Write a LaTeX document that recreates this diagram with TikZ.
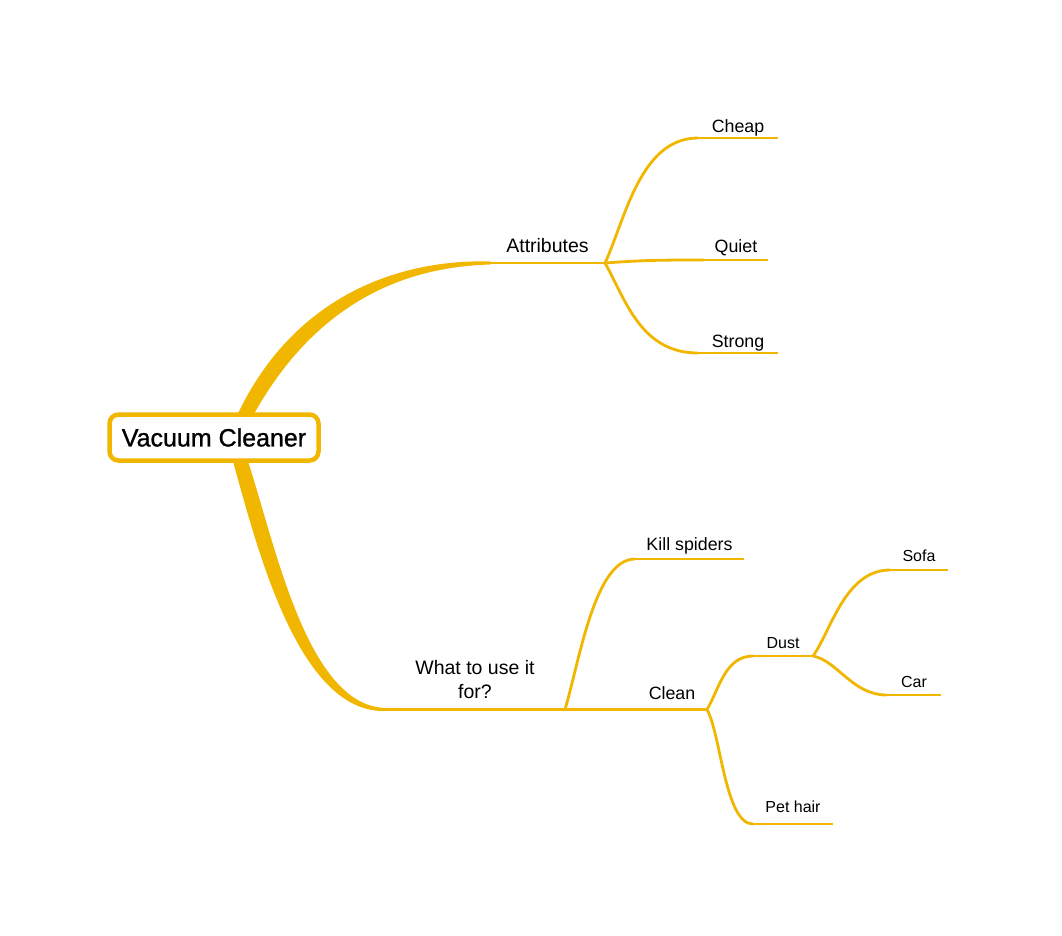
\documentclass[tikz,border=0pt]{standalone}
\usepackage{fontspec}
\setmainfont{Liberation Sans}
\newfontfamily\rootfont[FakeBold=1]{Liberation Sans}
\usepackage{tikz}
\usetikzlibrary{positioning}
\definecolor{mindgold}{RGB}{240,182,0}
\tikzset{
    root/.style={draw=mindgold, line width=4.5pt, rounded corners=9pt, fill=white,
        minimum width=209pt, minimum height=46pt, inner sep=0pt,
        font=\rootfont\fontsize{25}{30}\selectfont},
    topic/.style={anchor=south, inner xsep=0pt, outer sep=0pt, text depth=0pt,
        font=\fontsize{19.5}{24}\selectfont},
    subtopic/.style={topic, font=\fontsize{17.8}{21}\selectfont},
    leaf/.style={topic, font=\fontsize{16}{19}\selectfont},
    twig/.style={draw=mindgold, line width=2.8pt},
    limb/.style={fill=mindgold},
}

\begin{document}
\begin{tikzpicture}[x=1pt, y=-1pt]
	\useasboundingbox (0,0) rectangle (1062,935);
	% topics
	\node[topic, minimum width=115pt, inner ysep=11pt] (attr) at (547.5,263) {Attributes};
	\node[subtopic, minimum width=80pt, inner ysep=6pt] (cheap) at (738,138) {Cheap};
	\node[subtopic, minimum width=64pt, inner ysep=8pt] (quiet) at (736,260) {Quiet};
	\node[subtopic, minimum width=80pt, inner ysep=6pt] (strong) at (738,353) {Strong};
	\node[topic, minimum width=180pt, inner ysep=11pt, align=center] (wuse) at (475,709.5) {What to use it\\for?};
	\node[subtopic, minimum width=109pt, inner ysep=9pt] (kill) at (689.5,559) {Kill spiders};
	\node[subtopic, minimum width=70pt, inner ysep=10pt] (clean) at (672,709.5) {Clean};
	\node[leaf, minimum width=60pt, inner ysep=8pt] (dust) at (783,656) {Dust};
	\node[leaf, minimum width=58pt, inner ysep=9pt] (sofa) at (919,570) {Sofa};
	\node[leaf, minimum width=54pt, inner ysep=8pt] (car) at (914,695) {Car};
	\node[leaf, minimum width=80pt, inner ysep=12pt] (pet) at (793,824) {Pet hair};
	\foreach \n in {attr,cheap,quiet,strong,wuse,kill,clean,dust,sofa,car,pet}
		\draw[twig] (\n.south west) -- (\n.south east);
	% thick branches from the root
	\fill[limb] (235.3,419.2) .. controls (292,295) and (400,259) .. ([yshift=1.5pt]attr.south west)
		-- ([yshift=-1.5pt]attr.south west) .. controls (400,267) and (310,306) .. (247.9,425.2) -- cycle;
	\fill[limb] (231.9,457.5) .. controls (256,543) and (297,713) .. ([yshift=-1.5pt]wuse.south west)
		-- ([yshift=1.5pt]wuse.south west) .. controls (305,705) and (274,537) .. (245.3,453.3) -- cycle;
	\node[root] (vc) at (214,437.5) {Vacuum Cleaner};
	% connectors
	\draw[twig] (attr.south east) .. controls +(20,-43) and +(-58,0) .. (cheap.south west);
	\draw[twig] (attr.south east) .. controls +(40,-3) and +(-40,0) .. (quiet.south west);
	\draw[twig] (attr.south east) .. controls +(20,35) and +(-58,0) .. (strong.south west);
	\draw[twig] (wuse.south east) .. controls +(15,-51) and +(-40,0) .. (kill.south west);
	\draw[twig] (wuse.south east) -- (clean.south west);
	\draw[twig] (clean.south east) .. controls +(12,-20) and +(-28,0) .. (dust.south west);
	\draw[twig] (clean.south east) .. controls +(14,25) and +(-28,0) .. (pet.south west);
	\draw[twig] (dust.south east) .. controls +(18,-25) and +(-45,0) .. (sofa.south west);
	\draw[twig] (dust.south east) .. controls +(25,5) and +(-35,0) .. (car.south west);
\end{tikzpicture}
\end{document}
